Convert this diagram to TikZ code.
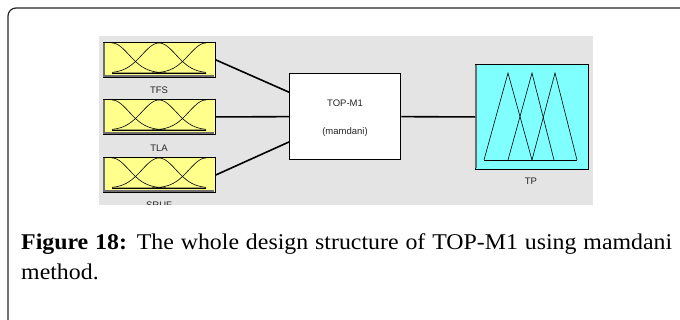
\documentclass[tikz,border=0pt]{standalone}
\usepackage{fontspec}
\setmainfont{Liberation Serif}[FakeStretch=1.06]
\newfontfamily\arialfont{Liberation Sans}
\usetikzlibrary{calc}
\definecolor{mfyellow}{RGB}{255,255,140}
\definecolor{mfcyan}{RGB}{128,255,255}
\definecolor{bggray}{RGB}{228,228,228}
\definecolor{edgegray}{RGB}{110,110,110}
\tikzset{
  inbox/.style={draw=black, line width=0.9pt, fill=mfyellow, minimum width=112pt, minimum height=35pt, inner sep=0pt, anchor=north west},
  outbox/.style={draw=black, line width=0.9pt, fill=mfcyan, minimum width=113pt, minimum height=105pt, inner sep=0pt, anchor=north west},
  sysbox/.style={draw=black, line width=1.3pt, fill=white, minimum width=111pt, minimum height=86pt, inner sep=0pt, anchor=north west},
  lbl/.style={font=\arialfont\fontsize{9.5}{10}\selectfont, text=black!85, inner sep=0pt},
  conn/.style={line width=1.6pt, black},
  mfline/.style={line width=0.6pt, black},
}
\begin{document}
\begin{tikzpicture}[x=1pt,y=-1pt]
\useasboundingbox (0,0) rectangle (680,320);
\fill[white] (0,0) rectangle (680,320);
% outer frame
\draw[line width=1.2pt, black!85, rounded corners=8pt] (8,322) -- (8,8) -- (690,8);
% gray background
\fill[bggray] (99,36) rectangle (593,205);
% input boxes
\node[inbox] (tfs) at (103,42) {};
\node[inbox] (tla) at (103,99) {};
\node[inbox] (sruf) at (103,157) {};
\foreach \t in {42,99,157}{
  \draw[edgegray, line width=1.2pt] (104,{\t+1}) -- (104,{\t+34}) -- (214,{\t+34});
  \draw[mfline] (112,{\t+31}) -- (206,{\t+31});
  \foreach \c in {112,159,206}{
    \draw[mfline] plot[domain=112:206, samples=70, smooth] (\x, {\t + 31 - 30*exp(-((\x-\c)*(\x-\c))/578)});
  }
}
\node[lbl] (ltfs) at (159,90) {TFS};
\node[lbl] (ltla) at (159,148) {TLA};
\begin{scope}
\clip (99,36) rectangle (593,205);
\node[lbl] (lsruf) at (159,205.5) {SRUF};
\end{scope}
% system box
\node[sysbox] (mf) at (289,73) {};
\node[lbl] (ltop) at (345,103) {TOP-M1};
\node[lbl] (lmam) at (345,132) {(mamdani)};
% output box
\node[outbox] (tp) at (475,64) {};
\draw[edgegray, line width=1.6pt] (476,65) -- (476,168);
\draw[mfline] (484,160) -- (577,160);
\draw[mfline] (484,160) -- (508,73) -- (532,160);
\draw[mfline] (508,160) -- (532,73) -- (554,160);
\draw[mfline] (532,160) -- (555,73) -- (577,160);
\node[lbl] (ltp) at (531,181) {TP};
% connectors
\draw[conn] (tfs.east) -- ($(mf.north west)!0.22!(mf.south west)$);
\draw[conn] (tla.east) -- (mf.west);
\draw[conn] (sruf.east) -- ($(mf.north west)!0.79!(mf.south west)$);
\draw[conn] (mf.east) -- (tp.west);
% caption
\node[anchor=north west, inner sep=0pt, text width=651pt, align=justify, font=\fontsize{22.5}{30}\selectfont] (cap) at (21,233.5)
{\hyphenpenalty=10000\textbf{Figure 18:} The whole design structure of TOP-M1 using mamdani\linebreak method.};
\end{tikzpicture}
\end{document}
